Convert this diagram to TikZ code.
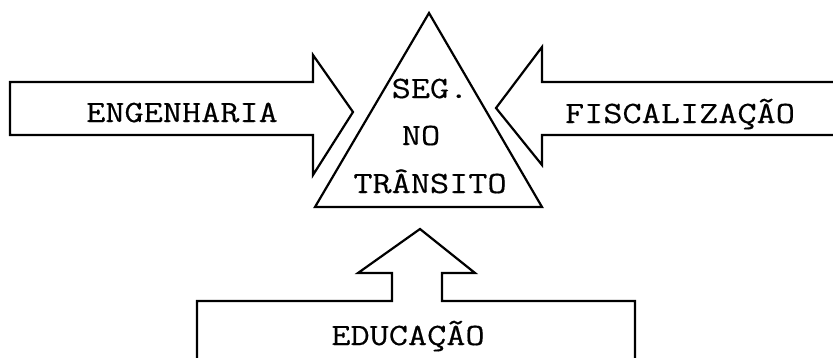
\documentclass[tikz,border=0pt]{standalone}
\usepackage{fontspec}
\newfontfamily\typewriter[FakeStretch=1.2,FakeBold=0.4]{Latin Modern Mono}
\usepackage{tikz}
\usetikzlibrary{positioning,calc}
\tikzstyle{blockarrow} = [draw=black, line width=2.2pt, line join=miter]
\tikzstyle{boxtext} = [font=\typewriter\fontsize{31}{36}\selectfont, anchor=base, inner sep=0pt]

\begin{document}
\begin{tikzpicture}[x=1pt,y=-1pt]
\useasboundingbox (0,0) rectangle (833,357);
%----------------------------------------------------------------------------
% Corner points
\coordinate (triLeft) at (315,207);
\coordinate (triTop) at (429,13);
\coordinate (triRight) at (542,207);

%----------------------------------------------------------------------------
% Triangle and the three block arrows
\draw [blockarrow] (triLeft) -- (triTop) -- (triRight) -- cycle;

\draw [blockarrow] (10,82) -- (313,82) -- (313,55) -- (353,112)
  -- (313,175) -- (313,135) -- (10,135) -- cycle;

\draw [blockarrow] (840,82) -- (542,82) -- (542,47) -- (496,108)
  -- (542,165) -- (542,135) -- (840,135);

\draw [blockarrow] (197,365) -- (197,301) -- (392,301) -- (392,273)
  -- (358,273) -- (420,229) -- (475,273) -- (442,273) -- (442,301)
  -- (635,301) -- (635,365);

%----------------------------------------------------------------------------
% Texts
\node (seg) [boxtext] at (430,98) {SEG.};
\node (no) [boxtext] at (421,145) {NO};
\node (transito) [boxtext] at (430,193) {TRÂNSITO};

\node (engenharia) [boxtext] at (182,122) {ENGENHARIA};
\node (fiscalizacao) [boxtext] at (680,123) {FISCALIZAÇÃO};
\node (educacao) [boxtext] at (408,345) {EDUCAÇÃO};

\end{tikzpicture}
\end{document}
